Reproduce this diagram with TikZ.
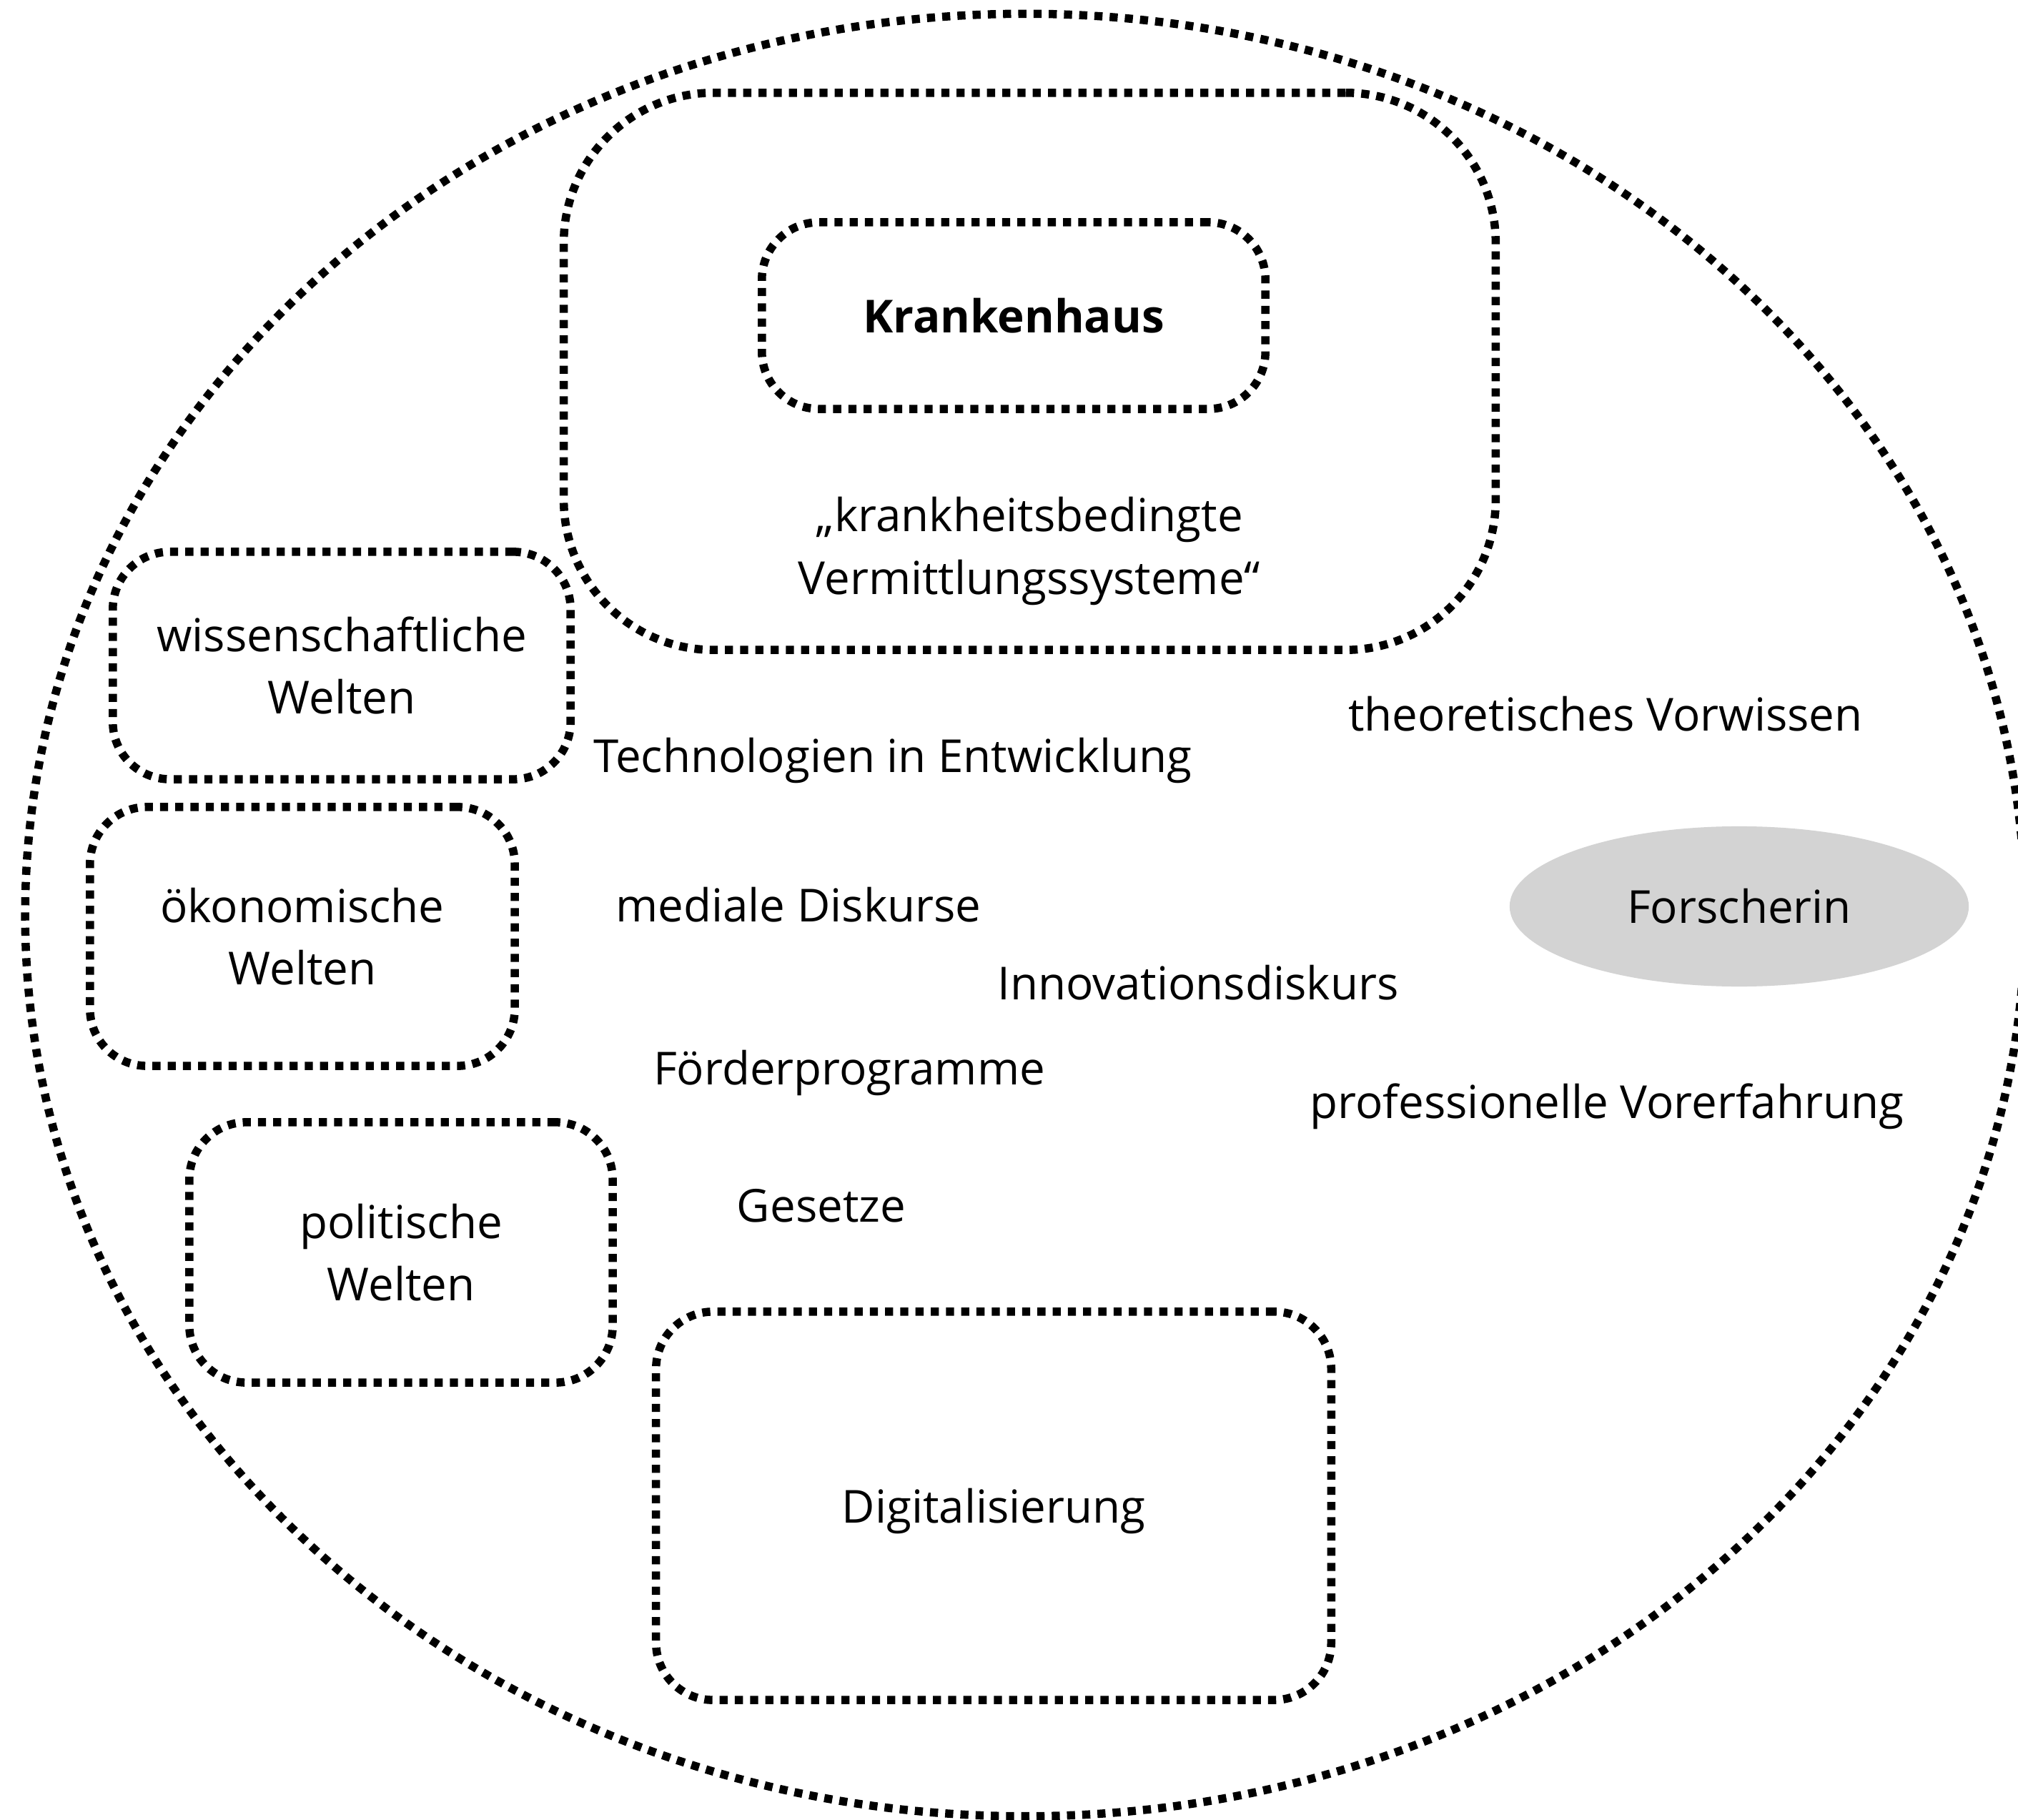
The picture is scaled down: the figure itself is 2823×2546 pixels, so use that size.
\documentclass[tikz,border=0pt]{standalone}
\usepackage{fontspec}
\setmainfont{Open Sans}
\usetikzlibrary{shapes.geometric}
\definecolor{fgray}{HTML}{D3D3D3}
\newcommand\lblfont{\fontsize{18.1}{24.8}\selectfont}
\begin{document}
\begin{tikzpicture}[x=0.01cm,y=-0.01cm,
  dotline/.style={line width=0.115cm, dash pattern=on 0.113cm off 0.1cm},
  lbl/.style={font=\lblfont, align=center, inner sep=0pt},
  world/.style={draw, dotline, rounded corners=0.8cm, lbl, rectangle},
  bigbox/.style={draw, dotline, rounded corners=2.1cm, rectangle, inner sep=0pt}]
\useasboundingbox (0,0) rectangle (2823,2546);
\clip (0,0) rectangle (2823,2546);

% outer environment
\node[ellipse, draw, dotline, minimum width=27.96cm, minimum height=25.2cm, inner sep=0pt] (umwelt) at (1434,1280) {};

% hospital area
\node[bigbox, minimum width=13.03cm, minimum height=7.79cm] (khbereich) at (1440.5,519.5) {};
\node[world, minimum width=7.04cm, minimum height=2.61cm, font=\lblfont\bfseries] (kh) at (1418,441.5) {Krankenhaus};
\node[lbl] (kvs) at (1440,771) {„krankheitsbedingte\\Vermittlungssysteme“};

% worlds
\node[world, minimum width=6.40cm, minimum height=3.18cm] (wiss) at (478,931) {wissenschaftliche\\Welten};
\node[world, minimum width=5.94cm, minimum height=3.62cm] (oeko) at (423,1310) {ökonomische\\Welten};
\node[world, minimum width=5.92cm, minimum height=3.64cm] (pol) at (561,1752) {politische\\Welten};
\node[world, minimum width=9.44cm, minimum height=5.43cm, text depth=0pt] (dig) at (1390,2106.5) {Digitalisierung};

% researcher
\node[ellipse, fill=fgray, minimum width=6.42cm, minimum height=2.24cm, lbl] (forscherin) at (2433,1268) {Forscherin};

% free labels
\node[lbl] (vorwissen) at (2246,999) {theoretisches Vorwissen};
\node[lbl] (techno) at (1249,1064) {Technologien in Entwicklung};
\node[lbl] (medial) at (1117,1266) {mediale Diskurse};
\node[lbl] (innov) at (1676,1375) {Innovationsdiskurs};
\node[lbl] (foerder) at (1188,1501) {Förderprogramme};
\node[lbl] (vorerf) at (2248,1548) {professionelle Vorerfahrung};
\node[lbl] (gesetze) at (1149,1687) {Gesetze};
\end{tikzpicture}
\end{document}
